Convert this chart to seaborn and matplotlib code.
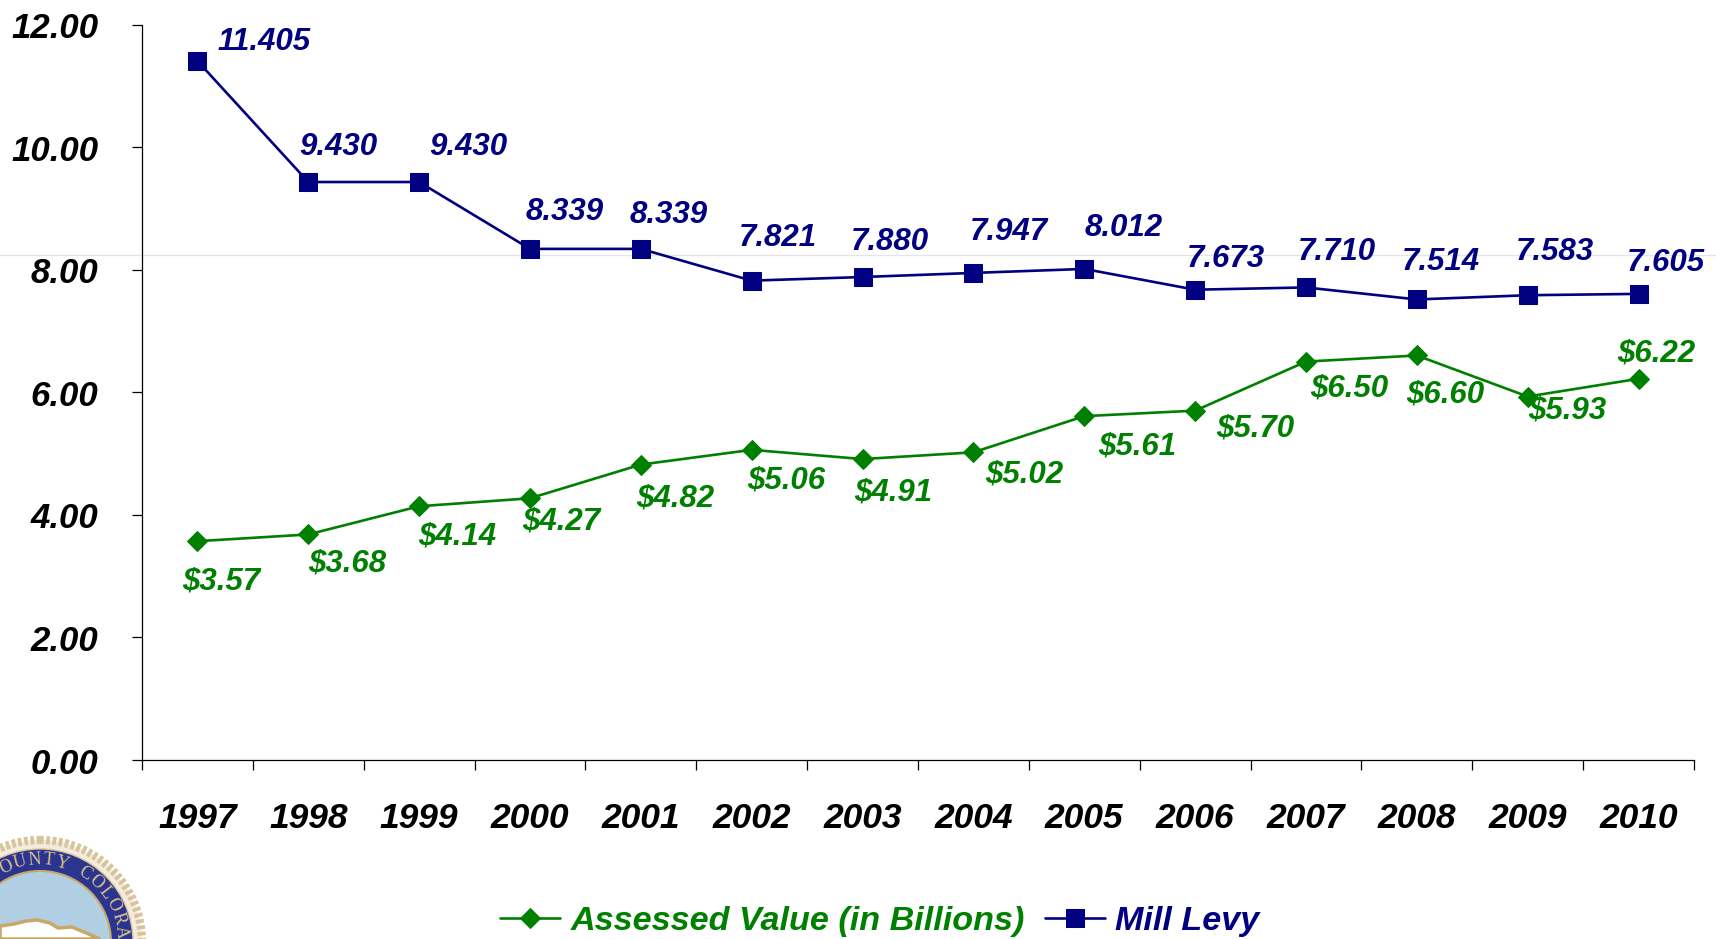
import numpy as np
import pandas as pd
import matplotlib
matplotlib.use("Agg")
import matplotlib.pyplot as plt
import matplotlib.transforms as mtrans
import seaborn as sns
from matplotlib.patches import Circle, Polygon

years = [1997, 1998, 1999, 2000, 2001, 2002, 2003, 2004, 2005, 2006, 2007, 2008, 2009, 2010]
assessed = [3.57, 3.68, 4.14, 4.27, 4.82, 5.06, 4.91, 5.02, 5.61, 5.70, 6.50, 6.60, 5.93, 6.22]
mill_levy = [11.405, 9.430, 9.430, 8.339, 8.339, 7.821, 7.880, 7.947, 8.012, 7.673, 7.710, 7.514, 7.583, 7.605]
y_ticks = [0, 2, 4, 6, 8, 10, 12]

# label offsets in px (dx, dy up) from each marker
levy_off = [(67, 19), (30, 35), (49, 35), (35, 37), (28, 34), (26, 43), (27, 35),
            (35, 41), (39, 41), (31, 31), (31, 35), (24, 37), (27, 43), (27, 31)]
value_off = [(24, -40), (39, -29), (38, -30), (31, -23), (34, -34), (35, -31), (31, -33),
             (51, -22), (53, -30), (60, -18), (43, -27), (28, -39), (40, -14), (18, 25)]

NAVY = "#000080"
GREEN = "#008000"
PX = 0.72  # points per pixel at dpi 100

sns.set_theme(style="white")
plt.rcParams["font.family"] = ["Liberation Sans", "DejaVu Sans"]
plt.rcParams["font.weight"] = "bold"
plt.rcParams["font.style"] = "italic"

df = pd.DataFrame({"year": years, "assessed": assessed, "levy": mill_levy})

fig = plt.figure(figsize=(17.16, 9.39), dpi=100)

# background layer in pixel coordinates, for the seal and the stray rule
bg = fig.add_axes([0, 0, 1, 1], zorder=0)
bg.set_xlim(0, 1716)
bg.set_ylim(939, 0)
bg.axis("off")
bg.plot([0, 1716], [254.5, 254.5], color="#e4e4ee", lw=0.9)

cx, cy = 40, 942
bg.add_patch(Circle((cx, cy), 102, fc="#f3ecdc", ec="#d8c49a", lw=6, ls=(0, (0.45, 0.3))))
bg.add_patch(Circle((cx, cy), 93, fc="#2b3590", ec="#d8c49a", lw=1))
bg.add_patch(Circle((cx, cy), 71, fc="#b0cfe3", ec="#c8a868", lw=1.5))
bg.add_patch(Polygon([(0, 939), (0, 926), (14, 924), (26, 921), (37, 920), (50, 923), (58, 928),
                      (72, 927), (84, 932), (100, 939)], fc="white", ec="#c8a868", lw=2.5))
for ch, ang in zip("OUNTY", [-24, -14, -4, 6, 16]):
    a = np.radians(ang)
    bg.text(cx + 82 * np.sin(a), cy - 82 * np.cos(a), ch, rotation=-ang, color="#d8c08a",
            fontsize=13, family="Liberation Serif", weight="normal", style="normal",
            ha="center", va="center")
for ch, ang in zip("COLORA", [33, 43, 53, 63, 73, 83]):
    a = np.radians(ang)
    bg.text(cx + 82 * np.sin(a), cy - 82 * np.cos(a), ch, rotation=-ang, color="#d8c08a",
            fontsize=13, family="Liberation Serif", weight="normal", style="normal",
            ha="center", va="center")

ax = fig.add_axes([142 / 1716, 1 - 760 / 939, (1694 - 142) / 1716, (760 - 24.5) / 939], zorder=1)
ax.patch.set_alpha(0)

sns.lineplot(data=df, x="year", y="assessed", ax=ax, color=GREEN, marker="D", markersize=10.5,
             markeredgecolor=GREEN, linewidth=1.9, label="Assessed Value (in Billions)", clip_on=False)
sns.lineplot(data=df, x="year", y="levy", ax=ax, color=NAVY, marker="s", markersize=12.5,
             markeredgecolor=NAVY, linewidth=1.9, label="Mill Levy", clip_on=False)

for yr, v, (dx, dy) in zip(years, mill_levy, levy_off):
    ax.annotate(f"{v:.3f}", (yr, v), xytext=(dx * PX, dy * PX), textcoords="offset points",
                ha="center", va="center", color=NAVY, fontsize=22.5)
for yr, v, (dx, dy) in zip(years, assessed, value_off):
    ax.annotate(f"${v:.2f}", (yr, v), xytext=(dx * PX, dy * PX), textcoords="offset points",
                ha="center", va="center", color=GREEN, fontsize=22.5)

ax.set_xlim(1996.5, 2010.5)
ax.set_ylim(0, 12)
ax.set_xlabel("")
ax.set_ylabel("")
ax.set_xticks(np.arange(1996.5, 2011, 1))
ax.set_xticklabels([])
ax.set_xticks(years, minor=True)
ax.set_xticklabels(years, minor=True, fontsize=25.5, color="black")
ax.set_yticks(y_ticks)
ax.set_yticklabels([f"{t:.2f}" for t in y_ticks], fontsize=25, color="black")
ax.tick_params(axis="x", which="major", bottom=True, length=7.5, width=0.9, color="black")
ax.tick_params(axis="x", which="minor", bottom=False, length=0, pad=30)
ax.tick_params(axis="y", which="major", left=True, length=7.5, width=0.9, color="black", pad=24)

# y labels sit a little under their ticks in the original
shift = mtrans.ScaledTranslation(0, -0.5 / 100, fig.dpi_scale_trans)
for lab in ax.get_yticklabels():
    lab.set_transform(lab.get_transform() + shift)

sns.despine(ax=ax)
for side in ["left", "bottom"]:
    ax.spines[side].set_color("black")
    ax.spines[side].set_linewidth(0.9)

ax.legend(loc="center", bbox_to_anchor=(0.4755, -0.22), ncol=2, frameon=False, fontsize=24.6,
          labelcolor="linecolor", handlelength=1.75, handletextpad=0.3, columnspacing=0.6,
          borderpad=0)

fig.savefig("out.png", dpi=100, facecolor="white")
